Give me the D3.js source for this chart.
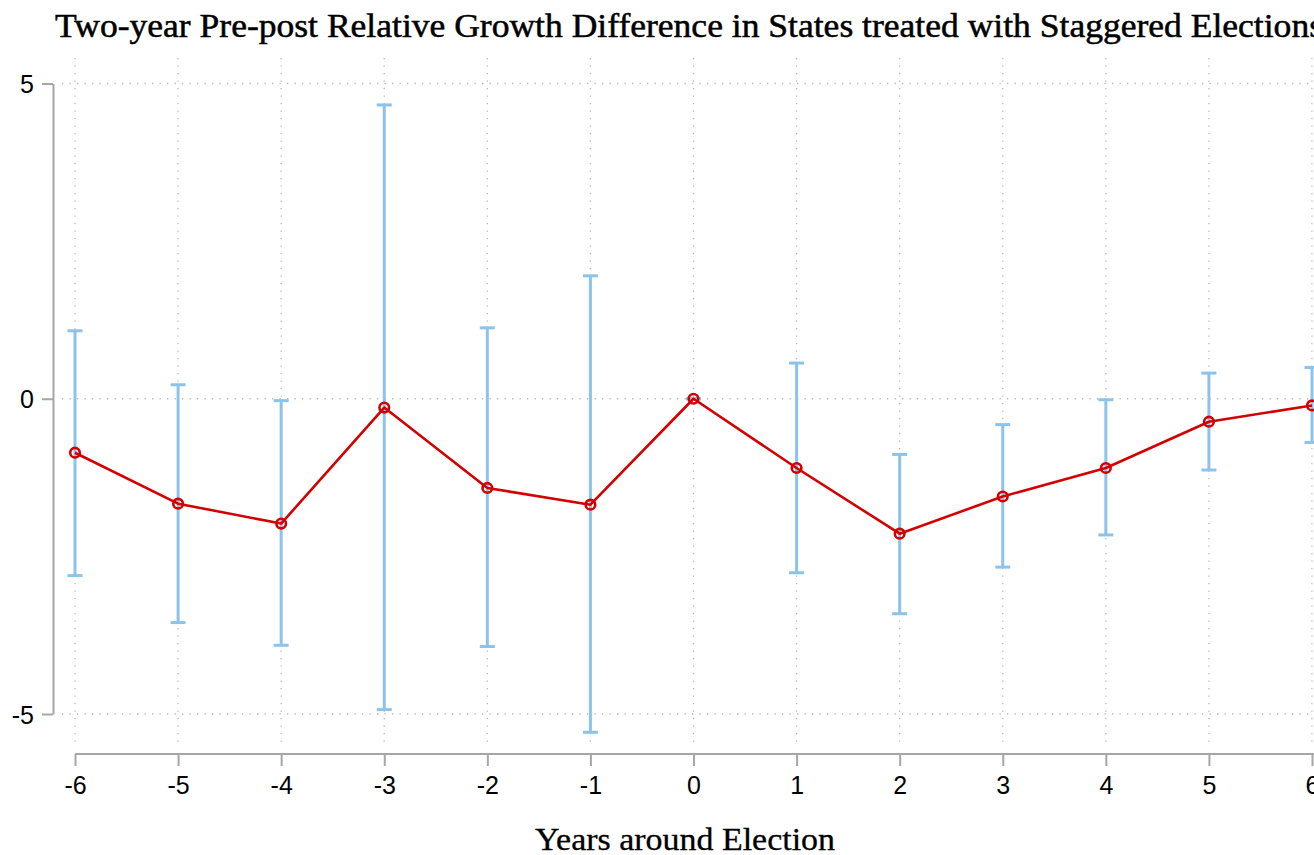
<!DOCTYPE html>
<html>
<head>
<meta charset="utf-8">
<script src="https://cdn.jsdelivr.net/npm/d3@7"></script>
<style>
  html, body { margin: 0; padding: 0; background: #fff; overflow: hidden; }
  svg { display: block; }
</style>
</head>
<body>
<svg id="chart" width="1314" height="855"></svg>
<script>
// Event-study estimates: years relative to election, point estimate and 95% CI
const years = [-6, -5, -4, -3, -2, -1, 0, 1, 2, 3, 4, 5, 6];
const estimate = [-0.856, -1.664, -1.98, -0.14, -1.415, -1.68, 0, -1.098, -2.14, -1.55, -1.098, -0.364, -0.106];
const ciUpper = [1.078, 0.222, -0.03, 4.66, 1.125, 1.95, 0, 0.566, -0.883, -0.41, -0.016, 0.407, 0.496];
const ciLower = [-2.805, -3.55, -3.91, -4.93, -3.93, -5.29, 0, -2.76, -3.41, -2.67, -2.16, -1.13, -0.693];
const yTicks = [-5, 0, 5];
const titleText = "Two-year Pre-post Relative Growth Difference in States treated with Staggered Elections";
const xTitle = "Years around Election";

const svg = d3.select("#chart");

const x = d3.scaleLinear().domain([-6, 6]).range([75, 1312]);
const y = d3.scaleLinear().domain([-5, 5]).range([714, 83.5]);

const gridColor = "#b8b8b8";
const axisColor = "#a6a6a6";
const tickFont = "Liberation Sans, Arial, sans-serif";

// dotted grid
const grid = svg.append("g");
grid.selectAll("line.h").data(yTicks).join("line")
  .attr("x1", 62).attr("x2", 1314)
  .attr("y1", d => y(d)).attr("y2", d => y(d))
  .attr("stroke", gridColor).attr("stroke-width", 1.3)
  .attr("stroke-dasharray", "1.3 6.2");
grid.selectAll("line.v").data(years).join("line")
  .attr("x1", d => x(d)).attr("x2", d => x(d))
  .attr("y1", 58).attr("y2", 748)
  .attr("stroke", gridColor).attr("stroke-width", 1.3)
  .attr("stroke-dasharray", "1.3 6.2");

// y axis
const yAxis = svg.append("g").attr("transform", "translate(53,0)")
  .call(d3.axisLeft(y).tickValues(yTicks).tickFormat(d => String(d))
    .tickSize(11).tickPadding(8).tickSizeOuter(0));
yAxis.select(".domain").attr("stroke", axisColor).attr("stroke-width", 2);
yAxis.selectAll(".tick line").attr("stroke", axisColor).attr("stroke-width", 2);
yAxis.selectAll(".tick text").attr("font-family", tickFont)
  .attr("font-size", 25).attr("fill", "#000").attr("dy", "0.36em");

// x axis
const xAxis = svg.append("g").attr("transform", "translate(0,754)")
  .call(d3.axisBottom(x).tickValues(years).tickFormat(d => String(d))
    .tickSize(12).tickPadding(10).tickSizeOuter(0));
xAxis.select(".domain").attr("stroke", axisColor).attr("stroke-width", 2)
  .attr("d", `M${x(-6)},0H1314`);
xAxis.selectAll(".tick line").attr("stroke", axisColor).attr("stroke-width", 2);
xAxis.selectAll(".tick text").attr("font-family", tickFont)
  .attr("font-size", 25).attr("fill", "#000");

// confidence intervals
const ciColor = "#8cc3ea";
const ci = svg.append("g");
ci.selectAll("line.bar").data(years).join("line")
  .attr("x1", d => x(d)).attr("x2", d => x(d))
  .attr("y1", (d, i) => y(ciUpper[i])).attr("y2", (d, i) => y(ciLower[i]))
  .attr("stroke", ciColor).attr("stroke-width", 3);
ci.selectAll("line.capU").data(years).join("line")
  .attr("x1", d => x(d) - 7.5).attr("x2", d => x(d) + 7.5)
  .attr("y1", (d, i) => y(ciUpper[i])).attr("y2", (d, i) => y(ciUpper[i]))
  .attr("stroke", ciColor).attr("stroke-width", 3);
ci.selectAll("line.capL").data(years).join("line")
  .attr("x1", d => x(d) - 7.5).attr("x2", d => x(d) + 7.5)
  .attr("y1", (d, i) => y(ciLower[i])).attr("y2", (d, i) => y(ciLower[i]))
  .attr("stroke", ciColor).attr("stroke-width", 3);

// point estimates
const red = "#d40000";
const line = d3.line().x(d => x(d[0])).y(d => y(d[1]));
svg.append("path")
  .datum(years.map((d, i) => [d, estimate[i]]))
  .attr("d", line).attr("fill", "none")
  .attr("stroke", red).attr("stroke-width", 2.6).attr("stroke-linejoin", "round");
svg.append("g").selectAll("circle").data(years).join("circle")
  .attr("cx", d => x(d)).attr("cy", (d, i) => y(estimate[i]))
  .attr("r", 4.8).attr("fill", "none")
  .attr("stroke", red).attr("stroke-width", 2.6);

// titles
svg.append("text")
  .attr("x", 55).attr("y", 37)
  .attr("font-family", "Liberation Serif, Times New Roman, serif")
  .attr("font-size", 33).attr("fill", "#000")
  .attr("stroke", "#000").attr("stroke-width", 0.5)
  .attr("textLength", 1268).attr("lengthAdjust", "spacingAndGlyphs")
  .text(titleText);

svg.append("text")
  .attr("x", 685).attr("y", 850)
  .attr("text-anchor", "middle")
  .attr("font-family", "Liberation Serif, Times New Roman, serif")
  .attr("font-size", 31).attr("fill", "#000")
  .attr("stroke", "#000").attr("stroke-width", 0.3)
  .attr("textLength", 300).attr("lengthAdjust", "spacingAndGlyphs")
  .text(xTitle);
</script>
</body>
</html>
